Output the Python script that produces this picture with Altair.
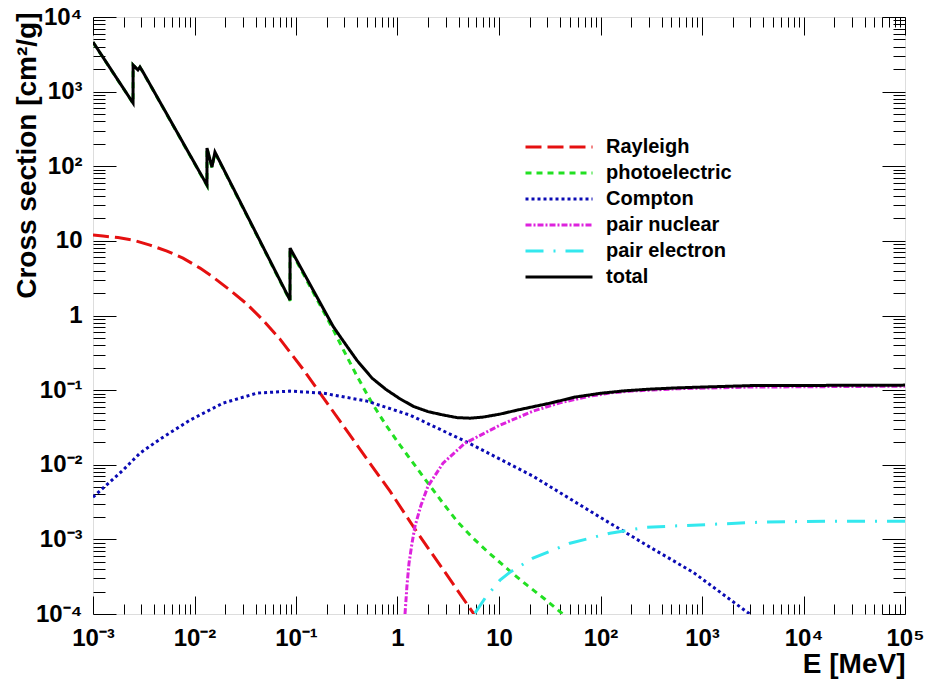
import altair as alt
import pandas as pd

# ---------------- data ----------------
names = ["Rayleigh", "photoelectric", "Compton", "pair nuclear", "pair electron", "total"]

rayleigh_E = [0.001, 0.001254, 0.001763, 0.002478, 0.003643, 0.005358, 0.0077, 0.011326,
              0.015213, 0.022376, 0.032905, 0.047297, 0.069568, 0.11722, 0.1724, 0.2714,
              0.50061, 0.84353, 1.5565, 2.9376, 5.6708]
rayleigh_S = [11.96, 11.60, 11.07, 10.25, 8.785, 7.30, 5.88, 4.319,
              3.271, 2.19, 1.4216, 0.8676, 0.4828, 0.1912, 0.0912, 0.03842,
              0.01189, 0.004428, 0.001249, 0.0003634, 0.0000994]

photo_E = [0.001, 0.00248, 0.002484, 0.00277, 0.0029, 0.00311, 0.01327, 0.013275,
           0.01486, 0.0159, 0.0873, 0.0874, 0.2314, 0.2904, 0.399, 0.5608, 0.7704,
           1.0583, 1.4543, 1.9975, 2.8077, 3.8574, 5.42, 7.6148, 12.834, 18.878,
           28.39, 42.71]
photo_S = [4580, 698, 2260, 1940, 2120, 1815, 55, 172,
           96, 152, 1.57, 7.7, 0.6572, 0.3545, 0.1541, 0.06694, 0.03395,
           0.01831, 0.01019, 0.005667, 0.003057, 0.001754, 0.00107, 0.0006947, 0.0003748,
           0.0002432, 0.0001579, 0.0000994]

compton_E = [0.001, 0.001254, 0.001975, 0.002904, 0.004571, 0.00903, 0.019093, 0.041275,
             0.087277, 0.1845, 0.50061, 1.3278, 4.838, 21.627, 98.88, 307.4, 815.3, 2971]
compton_S = [0.003678, 0.004857, 0.008466, 0.0143, 0.02203, 0.03962, 0.06694, 0.09117,
             0.09696, 0.09117, 0.0712, 0.04624, 0.02009, 0.007036, 0.001984, 0.000786,
             0.0003634, 0.0000994]

pairn_E = [1.1855, 1.2405, 1.2982, 1.3899, 1.4872, 1.7039, 1.9975, 2.8077, 4.6238,
           10.231, 21.627, 39.8, 78.79, 132.8, 199.5, 307.4, 607.4, 2775, 17040, 100000]
pairn_S = [0.0000994, 0.0002432, 0.0004797, 0.0008894, 0.001502, 0.002873, 0.005164,
           0.0105, 0.01948, 0.03395, 0.0523, 0.0675, 0.08311, 0.09258, 0.097, 0.1,
           0.1047, 0.1097, 0.1114, 0.1131]

paire_E = [5.8, 7.279, 10.231, 12.834, 21.627, 50.06, 124.0, 287.1, 815.3, 3727,
           17040, 100000]
paire_S = [0.0001025, 0.0001628, 0.0002838, 0.0003634, 0.0005598, 0.0008894, 0.001211,
           0.001457, 0.00155, 0.0017, 0.001754, 0.001754]

total_E = [0.001, 0.00248, 0.002484, 0.00277, 0.0029, 0.00311, 0.01327, 0.013275,
           0.01486, 0.0159, 0.0873, 0.0874, 0.2314, 0.2904, 0.399, 0.5608, 0.7704,
           1.0583, 1.4543, 1.9975, 2.8077, 3.857, 5.179, 6.957, 10.23,
           15.04, 31.8, 56.2, 98.9, 173.8, 307.5, 537, 955.7, 2972, 100000]
total_S = [4620, 703, 2275, 1950, 2140, 1830, 56, 175,
           97.5, 155, 1.61, 8.0, 0.72, 0.46, 0.25, 0.145, 0.102,
           0.0765, 0.060, 0.0515, 0.0465, 0.0428, 0.0421, 0.0435, 0.0477,
           0.0539, 0.0669, 0.0807, 0.0905, 0.098, 0.1031, 0.1069, 0.1097, 0.1149, 0.1167]

colors = ["#e51010", "#22e022", "#0a0ab4", "#dd22dd", "#33e8ee", "#000000"]
dashes = [[16, 6], [6, 5], [3, 3], [6, 2, 2, 2], [18, 10, 2, 10], [1, 0]]

x_major = [1e-3, 1e-2, 1e-1, 1, 10, 1e2, 1e3, 1e4, 1e5]
x_labels = ["10\u207b\u00b3", "10\u207b\u00b2", "10\u207b\u00b9", "1", "10",
            "10\u00b2", "10\u00b3", "10\u2074", "10\u2075"]
y_major = [1e-4, 1e-3, 1e-2, 1e-1, 1, 10, 1e2, 1e3, 1e4]
y_labels = ["10\u207b\u2074", "10\u207b\u00b3", "10\u207b\u00b2", "10\u207b\u00b9", "1", "10",
            "10\u00b2", "10\u00b3", "10\u2074"]
minor_mult = [2, 3, 4, 5, 6, 7, 8, 9]
x_minor = [m * d for d in x_major[:-1] for m in minor_mult]
y_minor = [m * d for d in y_major[:-1] for m in minor_mult]

# ---------------- build table ----------------
series_data = [(rayleigh_E, rayleigh_S), (photo_E, photo_S), (compton_E, compton_S),
               (pairn_E, pairn_S), (paire_E, paire_S), (total_E, total_S)]
rows = []
for name, (es, ss) in zip(names, series_data):
    for i, (e, s) in enumerate(zip(es, ss)):
        rows.append({"series": name, "E": e, "S": s, "idx": i})
df = pd.DataFrame(rows)

W, H = 812, 597


def label_expr(values, labels):
    parts = []
    for v, lab in zip(values, labels):
        parts.append(f"datum.value < {v * 2} ? '{lab}' : ")
    return "".join(parts) + "''"


xscale = alt.Scale(type="log", domain=[1e-3, 1e5], nice=False)
yscale = alt.Scale(type="log", domain=[1e-4, 1e4], nice=False)

FONT = "Liberation Sans"

x_label_axis = alt.Axis(values=x_major, labelExpr=label_expr(x_major, x_labels),
                        ticks=False, domain=False, grid=False,
                        labelFont=FONT, labelFontSize=24, labelFontWeight="bold",
                        labelColor="black", labelPadding=12, labelFlush=False,
                        labelOverlap=False,
                        title="E [MeV]", titleFont=FONT, titleFontSize=28,
                        titleFontWeight="bold", titleColor="black",
                        titleX=W, titleY=58, titleAlign="right",
                        titleBaseline="alphabetic", titleAnchor="end")
y_label_axis = alt.Axis(values=y_major, labelExpr=label_expr(y_major, y_labels),
                        ticks=False, domain=False, grid=False,
                        labelFont=FONT, labelFontSize=24, labelFontWeight="bold",
                        labelColor="black", labelPadding=11, labelFlush=False,
                        labelOverlap=False,
                        title="Cross section [cm\u00b2/g]", titleFont=FONT,
                        titleFontSize=28, titleFontWeight="bold", titleColor="black",
                        titleAngle=270, titleX=-58, titleY=-5, titleAlign="right",
                        titleBaseline="alphabetic", titleAnchor="end")

legend_cfg = dict(title="", orient="none", legendX=456, legendY=120,
                  symbolType="M-6.7,0H6.7", symbolSize=100,
                  symbolStrokeWidth=3, labelFont=FONT,
                  labelFontSize=20, labelFontWeight="bold",
                  labelColor="black", labelOffset=37,
                  rowPadding=6, padding=0)

lines = alt.Chart(df).mark_line(clip=True, strokeWidth=3).encode(
    x=alt.X("E:Q", scale=xscale, axis=x_label_axis),
    y=alt.Y("S:Q", scale=yscale, axis=y_label_axis),
    color=alt.Color("series:N", scale=alt.Scale(domain=names, range=colors),
                    legend=alt.Legend(**legend_cfg)),
    strokeDash=alt.StrokeDash("series:N", scale=alt.Scale(domain=names, range=dashes),
                              legend=alt.Legend(**legend_cfg)),
    order=alt.Order("idx:Q"),
)

dummy = pd.DataFrame({"E": [1.0], "S": [1.0]})


def x_ticks(orient, values, size):
    return alt.Chart(dummy).mark_point(opacity=0).encode(
        x=alt.X("E:Q", scale=xscale,
                axis=alt.Axis(orient=orient, offset=-H, values=values, labels=False,
                              domain=False, grid=False, ticks=True, tickSize=size,
                              tickColor="black", tickWidth=1, title="")),
        y=alt.Y("S:Q", scale=yscale, axis=None),
    )


def y_ticks(orient, values, size):
    return alt.Chart(dummy).mark_point(opacity=0).encode(
        x=alt.X("E:Q", scale=xscale, axis=None),
        y=alt.Y("S:Q", scale=yscale,
                axis=alt.Axis(orient=orient, offset=-W, values=values, labels=False,
                              domain=False, grid=False, ticks=True, tickSize=size,
                              tickColor="black", tickWidth=1, title="")),
    )


layers = [
    lines,
    x_ticks("top", x_major, 18), x_ticks("top", x_minor, 10),
    x_ticks("bottom", x_major, 18), x_ticks("bottom", x_minor, 10),
    y_ticks("right", y_major, 23), y_ticks("right", y_minor, 12),
    y_ticks("left", y_major, 23), y_ticks("left", y_minor, 12),
]

chart = alt.layer(*layers).resolve_scale(
    x="shared", y="shared"
).resolve_axis(
    x="independent", y="independent"
).properties(
    width=W, height=H,
    autosize=alt.AutoSizeParams(type="none"),
    padding={"left": 93, "top": 17, "right": 23, "bottom": 69},
    background="white",
).configure_view(
    fill="#f2f2f2", stroke="black", strokeWidth=1.5
).configure(font=FONT)

chart.save("out.html", embed_options={"renderer": "svg", "actions": False})
